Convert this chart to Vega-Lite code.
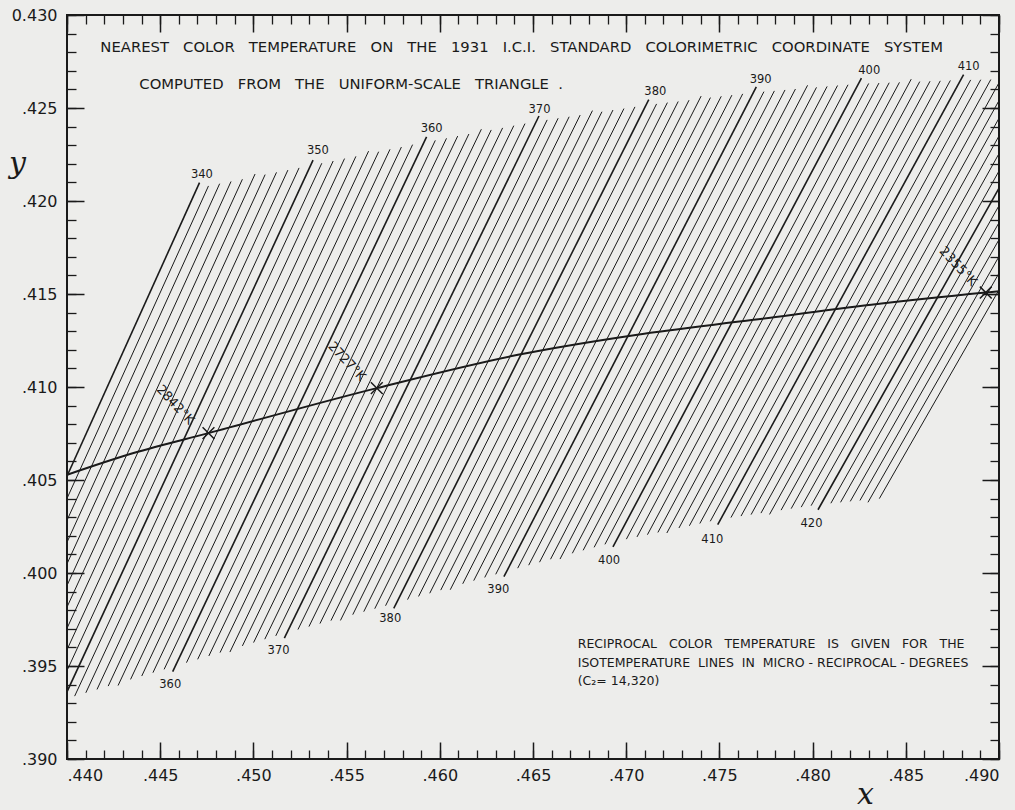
{
  "$schema": "https://vega.github.io/schema/vega-lite/v6.json",
  "width": 932,
  "height": 744,
  "autosize": {"type": "none"},
  "padding": {"left": 67, "top": 15, "right": 16, "bottom": 51},
  "background": "#ededeb",
  "config": {
    "view": {"stroke": "#1a1a1a", "strokeWidth": 2},
    "axis": {"labelFont": "DejaVu Sans", "labelColor": "#1a1a1a", "tickColor": "#1a1a1a", "grid": false, "domain": false, "titleColor": "#1a1a1a"},
    "text": {"font": "DejaVu Sans", "color": "#1a1a1a"}
  },
  "datasets": {
    "iso": [
      {"m":340,"x1":0.43270,"y1":0.38900,"x2":0.44711,"y2":0.42099},
      {"m":341,"x1":0.43322,"y1":0.38900,"x2":0.44759,"y2":0.42081},
      {"m":342,"x1":0.43374,"y1":0.38900,"x2":0.44819,"y2":0.42093},
      {"m":343,"x1":0.43426,"y1":0.38900,"x2":0.44880,"y2":0.42105},
      {"m":344,"x1":0.43477,"y1":0.38900,"x2":0.44941,"y2":0.42117},
      {"m":345,"x1":0.43529,"y1":0.38900,"x2":0.45009,"y2":0.42145},
      {"m":346,"x1":0.43581,"y1":0.38900,"x2":0.45063,"y2":0.42142},
      {"m":347,"x1":0.43632,"y1":0.38900,"x2":0.45124,"y2":0.42154},
      {"m":348,"x1":0.43684,"y1":0.38900,"x2":0.45185,"y2":0.42166},
      {"m":349,"x1":0.43735,"y1":0.38900,"x2":0.45245,"y2":0.42178},
      {"m":350,"x1":0.43967,"y1":0.39290,"x2":0.45320,"y2":0.42220},
      {"m":351,"x1":0.44041,"y1":0.39338,"x2":0.45367,"y2":0.42203},
      {"m":352,"x1":0.44101,"y1":0.39356,"x2":0.45428,"y2":0.42215},
      {"m":353,"x1":0.44161,"y1":0.39374,"x2":0.45489,"y2":0.42228},
      {"m":354,"x1":0.44221,"y1":0.39392,"x2":0.45550,"y2":0.42240},
      {"m":355,"x1":0.44274,"y1":0.39395,"x2":0.45618,"y2":0.42268},
      {"m":356,"x1":0.44341,"y1":0.39428,"x2":0.45672,"y2":0.42265},
      {"m":357,"x1":0.44401,"y1":0.39446,"x2":0.45733,"y2":0.42278},
      {"m":358,"x1":0.44461,"y1":0.39464,"x2":0.45794,"y2":0.42290},
      {"m":359,"x1":0.44521,"y1":0.39482,"x2":0.45854,"y2":0.42303},
      {"m":360,"x1":0.44567,"y1":0.39470,"x2":0.45929,"y2":0.42345},
      {"m":361,"x1":0.44641,"y1":0.39518,"x2":0.45976,"y2":0.42326},
      {"m":362,"x1":0.44701,"y1":0.39536,"x2":0.46036,"y2":0.42337},
      {"m":363,"x1":0.44761,"y1":0.39554,"x2":0.46096,"y2":0.42349},
      {"m":364,"x1":0.44821,"y1":0.39572,"x2":0.46156,"y2":0.42360},
      {"m":365,"x1":0.44874,"y1":0.39575,"x2":0.46223,"y2":0.42386},
      {"m":366,"x1":0.44941,"y1":0.39608,"x2":0.46276,"y2":0.42382},
      {"m":367,"x1":0.45001,"y1":0.39626,"x2":0.46337,"y2":0.42393},
      {"m":368,"x1":0.45061,"y1":0.39644,"x2":0.46397,"y2":0.42405},
      {"m":369,"x1":0.45120,"y1":0.39662,"x2":0.46457,"y2":0.42416},
      {"m":370,"x1":0.45166,"y1":0.39650,"x2":0.46532,"y2":0.42457},
      {"m":371,"x1":0.45239,"y1":0.39696,"x2":0.46576,"y2":0.42436},
      {"m":372,"x1":0.45298,"y1":0.39712,"x2":0.46635,"y2":0.42445},
      {"m":373,"x1":0.45357,"y1":0.39728,"x2":0.46694,"y2":0.42453},
      {"m":374,"x1":0.45416,"y1":0.39744,"x2":0.46753,"y2":0.42462},
      {"m":375,"x1":0.45467,"y1":0.39745,"x2":0.46819,"y2":0.42486},
      {"m":376,"x1":0.45533,"y1":0.39776,"x2":0.46870,"y2":0.42480},
      {"m":377,"x1":0.45592,"y1":0.39792,"x2":0.46929,"y2":0.42489},
      {"m":378,"x1":0.45651,"y1":0.39808,"x2":0.46988,"y2":0.42497},
      {"m":379,"x1":0.45709,"y1":0.39824,"x2":0.47047,"y2":0.42506},
      {"m":380,"x1":0.45753,"y1":0.39810,"x2":0.47121,"y2":0.42545},
      {"m":381,"x1":0.45827,"y1":0.39857,"x2":0.47163,"y2":0.42522},
      {"m":382,"x1":0.45886,"y1":0.39874,"x2":0.47221,"y2":0.42529},
      {"m":383,"x1":0.45946,"y1":0.39891,"x2":0.47279,"y2":0.42535},
      {"m":384,"x1":0.46005,"y1":0.39908,"x2":0.47337,"y2":0.42542},
      {"m":385,"x1":0.46056,"y1":0.39910,"x2":0.47402,"y2":0.42564},
      {"m":386,"x1":0.46123,"y1":0.39942,"x2":0.47452,"y2":0.42556},
      {"m":387,"x1":0.46182,"y1":0.39959,"x2":0.47510,"y2":0.42563},
      {"m":388,"x1":0.46241,"y1":0.39976,"x2":0.47567,"y2":0.42569},
      {"m":389,"x1":0.46300,"y1":0.39993,"x2":0.47625,"y2":0.42576},
      {"m":390,"x1":0.46344,"y1":0.39980,"x2":0.47698,"y2":0.42613},
      {"m":391,"x1":0.46418,"y1":0.40026,"x2":0.47739,"y2":0.42588},
      {"m":392,"x1":0.46477,"y1":0.40042,"x2":0.47795,"y2":0.42592},
      {"m":393,"x1":0.46535,"y1":0.40058,"x2":0.47852,"y2":0.42597},
      {"m":394,"x1":0.46594,"y1":0.40074,"x2":0.47908,"y2":0.42602},
      {"m":395,"x1":0.46645,"y1":0.40075,"x2":0.47973,"y2":0.42622},
      {"m":396,"x1":0.46711,"y1":0.40106,"x2":0.48021,"y2":0.42611},
      {"m":397,"x1":0.46769,"y1":0.40122,"x2":0.48078,"y2":0.42616},
      {"m":398,"x1":0.46828,"y1":0.40138,"x2":0.48134,"y2":0.42621},
      {"m":399,"x1":0.46886,"y1":0.40154,"x2":0.48190,"y2":0.42625},
      {"m":400,"x1":0.46929,"y1":0.40140,"x2":0.48262,"y2":0.42660},
      {"m":401,"x1":0.47001,"y1":0.40182,"x2":0.48301,"y2":0.42632},
      {"m":402,"x1":0.47058,"y1":0.40194,"x2":0.48356,"y2":0.42634},
      {"m":403,"x1":0.47114,"y1":0.40206,"x2":0.48411,"y2":0.42636},
      {"m":404,"x1":0.47170,"y1":0.40218,"x2":0.48466,"y2":0.42638},
      {"m":405,"x1":0.47218,"y1":0.40215,"x2":0.48529,"y2":0.42655},
      {"m":406,"x1":0.47283,"y1":0.40242,"x2":0.48575,"y2":0.42642},
      {"m":407,"x1":0.47339,"y1":0.40254,"x2":0.48630,"y2":0.42644},
      {"m":408,"x1":0.47395,"y1":0.40266,"x2":0.48685,"y2":0.42646},
      {"m":409,"x1":0.47451,"y1":0.40278,"x2":0.48739,"y2":0.42648},
      {"m":410,"x1":0.47491,"y1":0.40260,"x2":0.48810,"y2":0.42680},
      {"m":411,"x1":0.47562,"y1":0.40298,"x2":0.48848,"y2":0.42651},
      {"m":412,"x1":0.47616,"y1":0.40306,"x2":0.48902,"y2":0.42652},
      {"m":413,"x1":0.47670,"y1":0.40314,"x2":0.48956,"y2":0.42653},
      {"m":414,"x1":0.47723,"y1":0.40322,"x2":0.49010,"y2":0.42654},
      {"m":415,"x1":0.47769,"y1":0.40315,"x2":0.49072,"y2":0.42670},
      {"m":416,"x1":0.47831,"y1":0.40338,"x2":0.49117,"y2":0.42656},
      {"m":417,"x1":0.47885,"y1":0.40346,"x2":0.49171,"y2":0.42657},
      {"m":418,"x1":0.47939,"y1":0.40354,"x2":0.49225,"y2":0.42658},
      {"m":419,"x1":0.47992,"y1":0.40362,"x2":0.49279,"y2":0.42659},
      {"m":420,"x1":0.48029,"y1":0.40340,"x2":0.49349,"y2":0.42690},
      {"m":421,"x1":0.48098,"y1":0.40375,"x2":0.49386,"y2":0.42660},
      {"m":422,"x1":0.48150,"y1":0.40380,"x2":0.49439,"y2":0.42660},
      {"m":423,"x1":0.48202,"y1":0.40385,"x2":0.49492,"y2":0.42660},
      {"m":424,"x1":0.48254,"y1":0.40390,"x2":0.49545,"y2":0.42660},
      {"m":425,"x1":0.48297,"y1":0.40380,"x2":0.49607,"y2":0.42675},
      {"m":426,"x1":0.48358,"y1":0.40400,"x2":0.49651,"y2":0.42660}
    ],
    "locus": [
      {"x":0.4400,"y":0.40528},
      {"x":0.44357,"y":0.40645},
      {"x":0.44759,"y":0.40752},
      {"x":0.45662,"y":0.40994},
      {"x":0.46419,"y":0.41173},
      {"x":0.47051,"y":0.41280},
      {"x":0.47683,"y":0.41361},
      {"x":0.48314,"y":0.41442},
      {"x":0.48929,"y":0.41508},
      {"x":0.4900,"y":0.41515}
    ],
    "temps": [
      {"t":"2842°K","x":0.44759,"y":0.40752,"lx":0.44581,"ly":0.40904},
      {"t":"2727°K","x":0.45662,"y":0.40994,"lx":0.45501,"ly":0.41137},
      {"t":"2355°K","x":0.48929,"y":0.41508,"lx":0.48781,"ly":0.41648}
    ],
    "mlabels": [
      {"t":"340","x":0.44724,"y":0.42140},
      {"t":"350","x":0.45346,"y":0.42269},
      {"t":"360","x":0.45956,"y":0.42386},
      {"t":"370","x":0.46535,"y":0.42490},
      {"t":"380","x":0.47156,"y":0.42588},
      {"t":"390","x":0.47721,"y":0.42651},
      {"t":"400","x":0.48304,"y":0.42699},
      {"t":"410","x":0.48837,"y":0.42722},
      {"t":"360","x":0.44554,"y":0.39400},
      {"t":"370","x":0.45135,"y":0.39582},
      {"t":"380","x":0.45734,"y":0.39753},
      {"t":"390","x":0.46314,"y":0.39910},
      {"t":"400","x":0.46908,"y":0.40062},
      {"t":"410","x":0.47462,"y":0.40179},
      {"t":"420","x":0.47994,"y":0.40265}
    ],
    "notes": [
      {"t":"RECIPROCAL\u00a0\u00a0 COLOR\u00a0\u00a0 TEMPERATURE\u00a0\u00a0 IS\u00a0\u00a0 GIVEN\u00a0\u00a0 FOR\u00a0\u00a0 THE","x":0.4674,"y":0.39618},
      {"t":"ISOTEMPERATURE\u00a0 LINES\u00a0 IN\u00a0 MICRO - RECIPROCAL - DEGREES","x":0.4674,"y":0.39516},
      {"t":"(C₂= 14,320)","x":0.4674,"y":0.39418}
    ],
    "titles": [
      {"t":"NEAREST\u00a0\u00a0 COLOR\u00a0\u00a0 TEMPERATURE\u00a0\u00a0 ON\u00a0\u00a0 THE\u00a0\u00a0 1931\u00a0\u00a0 I.C.I.\u00a0\u00a0 STANDARD\u00a0\u00a0 COLORIMETRIC\u00a0\u00a0 COORDINATE\u00a0\u00a0 SYSTEM","x":0.44179,"y":0.42823},
      {"t":"COMPUTED\u00a0\u00a0 FROM\u00a0\u00a0 THE\u00a0\u00a0 UNIFORM-SCALE\u00a0\u00a0 TRIANGLE\u00a0 .","x":0.44388,"y":0.42624}
    ]
  },
  "resolve": {"axis": {"x": "independent", "y": "independent"}},
  "layer": [
    {
      "data": {"name": "iso"},
      "mark": {"type": "rule", "clip": true, "color": "#1a1a1a"},
      "encoding": {
        "x": {"field": "x1", "type": "quantitative",
          "scale": {"domain": [0.44, 0.49], "nice": false, "zero": false},
          "axis": {"orient": "bottom", "values": [0.44,0.445,0.45,0.455,0.46,0.465,0.47,0.475,0.48,0.485,0.49],
            "ticks": false, "labelExpr": "substring(format(datum.value, '.3f'), 1)", "labelFontSize": 16, "labelPadding": 8,
            "title": "x", "titleFont": "DejaVu Serif", "titleFontStyle": "italic", "titleFontWeight": "normal", "titleFontSize": 30,
            "titleX": 798, "titleY": 44, "titleBaseline": "alphabetic", "titleAlign": "center"}},
        "y": {"field": "y1", "type": "quantitative",
          "scale": {"domain": [0.39, 0.43], "nice": false, "zero": false},
          "axis": {"orient": "left", "values": [0.39,0.395,0.4,0.405,0.41,0.415,0.42,0.425,0.43],
            "ticks": false, "labelExpr": "datum.value > 0.4299 ? '0.430' : substring(format(datum.value, '.3f'), 1)", "labelFontSize": 16, "labelPadding": 10,
            "title": "y", "titleAngle": 0, "titleFont": "DejaVu Serif", "titleFontStyle": "italic", "titleFontWeight": "normal", "titleFontSize": 30,
            "titleX": -50, "titleY": 157, "titleBaseline": "alphabetic", "titleAlign": "center"}},
        "x2": {"field": "x2"},
        "y2": {"field": "y2"},
        "strokeWidth": {"condition": {"test": "datum.m % 10 === 0", "value": 1.6}, "value": 1}
      }
    },
    {
      "data": {"name": "locus"},
      "mark": {"type": "line", "interpolate": "monotone", "color": "#1a1a1a", "strokeWidth": 2, "clip": true},
      "encoding": {
        "x": {"field": "x", "type": "quantitative", "scale": {"domain": [0.44, 0.49], "nice": false, "zero": false},
          "axis": {"orient": "bottom", "values": [0.44,0.441,0.442,0.443,0.444,0.445,0.446,0.447,0.448,0.449,0.45,0.451,0.452,0.453,0.454,0.455,0.456,0.457,0.458,0.459,0.46,0.461,0.462,0.463,0.464,0.465,0.466,0.467,0.468,0.469,0.47,0.471,0.472,0.473,0.474,0.475,0.476,0.477,0.478,0.479,0.48,0.481,0.482,0.483,0.484,0.485,0.486,0.487,0.488,0.489,0.49],
            "labels": false, "tickSize": -9, "tickWidth": 1.3, "title": null}},
        "y": {"field": "y", "type": "quantitative", "scale": {"domain": [0.39, 0.43], "nice": false, "zero": false},
          "axis": {"orient": "left", "values": [0.39,0.391,0.392,0.393,0.394,0.395,0.396,0.397,0.398,0.399,0.4,0.401,0.402,0.403,0.404,0.405,0.406,0.407,0.408,0.409,0.41,0.411,0.412,0.413,0.414,0.415,0.416,0.417,0.418,0.419,0.42,0.421,0.422,0.423,0.424,0.425,0.426,0.427,0.428,0.429,0.43],
            "labels": false, "tickSize": -9, "tickWidth": 1.3, "title": null}}
      }
    },
    {
      "data": {"name": "temps"},
      "mark": {"type": "point", "shape": "M-1,-1L1,1M-1,1L1,-1", "filled": false, "size": 140, "stroke": "#1a1a1a", "strokeWidth": 1.5, "opacity": 1},
      "encoding": {
        "x": {"field": "x", "type": "quantitative", "scale": {"domain": [0.44, 0.49], "nice": false, "zero": false},
          "axis": {"orient": "top", "values": [0.44,0.445,0.45,0.455,0.46,0.465,0.47,0.475,0.48,0.485,0.49],
            "labels": false, "tickSize": -17, "tickWidth": 1.5, "title": null}},
        "y": {"field": "y", "type": "quantitative", "scale": {"domain": [0.39, 0.43], "nice": false, "zero": false},
          "axis": {"orient": "right", "values": [0.39,0.395,0.4,0.405,0.41,0.415,0.42,0.425,0.43],
            "labels": false, "tickSize": -17, "tickWidth": 1.5, "title": null}}
      }
    },
    {
      "data": {"name": "mlabels"},
      "mark": {"type": "text", "fontSize": 11.5, "align": "center", "baseline": "middle"},
      "encoding": {
        "x": {"field": "x", "type": "quantitative", "scale": {"domain": [0.44, 0.49], "nice": false, "zero": false},
          "axis": {"orient": "top", "values": [0.44,0.441,0.442,0.443,0.444,0.445,0.446,0.447,0.448,0.449,0.45,0.451,0.452,0.453,0.454,0.455,0.456,0.457,0.458,0.459,0.46,0.461,0.462,0.463,0.464,0.465,0.466,0.467,0.468,0.469,0.47,0.471,0.472,0.473,0.474,0.475,0.476,0.477,0.478,0.479,0.48,0.481,0.482,0.483,0.484,0.485,0.486,0.487,0.488,0.489,0.49],
            "labels": false, "tickSize": -9, "tickWidth": 1.3, "title": null}},
        "y": {"field": "y", "type": "quantitative", "scale": {"domain": [0.39, 0.43], "nice": false, "zero": false},
          "axis": {"orient": "right", "values": [0.39,0.391,0.392,0.393,0.394,0.395,0.396,0.397,0.398,0.399,0.4,0.401,0.402,0.403,0.404,0.405,0.406,0.407,0.408,0.409,0.41,0.411,0.412,0.413,0.414,0.415,0.416,0.417,0.418,0.419,0.42,0.421,0.422,0.423,0.424,0.425,0.426,0.427,0.428,0.429,0.43],
            "labels": false, "tickSize": -9, "tickWidth": 1.3, "title": null}},
        "text": {"field": "t"}
      }
    },
    {
      "data": {"name": "temps"},
      "mark": {"type": "text", "fontSize": 13, "angle": 47, "align": "center", "baseline": "middle"},
      "encoding": {
        "x": {"field": "lx", "type": "quantitative", "scale": {"domain": [0.44, 0.49], "nice": false, "zero": false},
          "axis": {"orient": "bottom", "values": [0.44,0.445,0.45,0.455,0.46,0.465,0.47,0.475,0.48,0.485,0.49],
            "labels": false, "tickSize": -17, "tickWidth": 1.5, "title": null}},
        "y": {"field": "ly", "type": "quantitative", "scale": {"domain": [0.39, 0.43], "nice": false, "zero": false},
          "axis": {"orient": "left", "values": [0.39,0.395,0.4,0.405,0.41,0.415,0.42,0.425,0.43],
            "labels": false, "tickSize": -17, "tickWidth": 1.5, "title": null}},
        "text": {"field": "t"}
      }
    },
    {
      "data": {"name": "notes"},
      "mark": {"type": "text", "fontSize": 12.5, "align": "left", "baseline": "middle"},
      "encoding": {
        "x": {"field": "x", "type": "quantitative", "scale": {"domain": [0.44, 0.49], "nice": false, "zero": false}, "axis": null},
        "y": {"field": "y", "type": "quantitative", "scale": {"domain": [0.39, 0.43], "nice": false, "zero": false}, "axis": null},
        "text": {"field": "t"}
      }
    },
    {
      "data": {"name": "titles"},
      "mark": {"type": "text", "fontSize": 14.8, "align": "left", "baseline": "middle"},
      "encoding": {
        "x": {"field": "x", "type": "quantitative", "scale": {"domain": [0.44, 0.49], "nice": false, "zero": false}, "axis": null},
        "y": {"field": "y", "type": "quantitative", "scale": {"domain": [0.39, 0.43], "nice": false, "zero": false}, "axis": null},
        "text": {"field": "t"}
      }
    }
  ]
}
